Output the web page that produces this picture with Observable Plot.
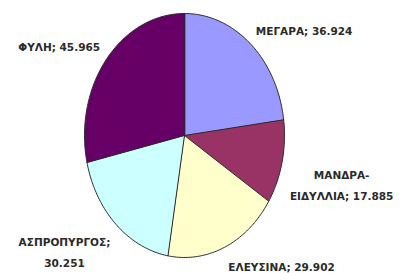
<!DOCTYPE html>
<html>
<head>
<meta charset="utf-8">
<script src="https://cdn.jsdelivr.net/npm/d3@7"></script>
<script src="https://cdn.jsdelivr.net/npm/@observablehq/plot@0.6"></script>
<style>
  html, body { margin: 0; padding: 0; background: #ffffff; }
  #chart svg { display: block; }
</style>
</head>
<body>
<div id="chart"></div>
<script>
// ---- data ----
const names = ["ΜΕΓΑΡΑ", "ΜΑΝΔΡΑ-ΕΙΔΥΛΛΙΑ", "ΕΛΕΥΣΙΝΑ", "ΑΣΠΡΟΠΥΡΓΟΣ", "ΦΥΛΗ"];
const values = [36924, 17885, 29902, 30251, 45965];
const labels = ["ΜΕΓΑΡΑ; 36.924", "ΜΑΝΔΡΑ-\nΕΙΔΥΛΛΙΑ; 17.885", "ΕΛΕΥΣΙΝΑ; 29.902", "ΑΣΠΡΟΠΥΡΓΟΣ;\n30.251", "ΦΥΛΗ; 45.965"];

// ---- styles ----
const palette = ["#9999ff", "#993366", "#ffffcc", "#ccffff", "#660066"];
const labelRadius = 1.08;
const fontSize = 10.5;
const fontFamily = "DejaVu Sans";
const pxPerUnitX = 100; // x range 200px over domain [-1,1]

// text width measurement (for centring multi-line labels)
const ctx = document.createElement("canvas").getContext("2d");
ctx.font = `bold ${fontSize}px "${fontFamily}"`;
const textWidth = s => d3.max(s.split("\n"), line => ctx.measureText(line).width);

// ---- geometry derived from data ----
const total = d3.sum(values);
const pts = [];
const labs = [];
let cum = 0;
values.forEach((v, i) => {
  const a0 = (cum / total) * 2 * Math.PI;
  cum += v;
  const a1 = (cum / total) * 2 * Math.PI;
  const n = Math.max(2, Math.ceil((a1 - a0) / (Math.PI / 180)));
  pts.push({name: names[i], x: 0, y: 0});
  for (let k = 0; k <= n; k++) {
    const t = a0 + (a1 - a0) * k / n;
    pts.push({name: names[i], x: Math.sin(t), y: -Math.cos(t)});
  }
  const m = (a0 + a1) / 2;
  const side = Math.sin(m) >= 0 ? 1 : -1;
  const w = textWidth(labels[i]);
  labs.push({
    label: labels[i],
    lx: Math.sin(m) * labelRadius + side * (w / 2) / pxPerUnitX,
    ly: -Math.cos(m) * labelRadius,
    above: Math.cos(m) >= 0
  });
});

const textOpts = {
  x: "lx", y: "ly", text: "label",
  fill: "#2a2a2a",
  fontFamily: `${fontFamily}, sans-serif`,
  fontSize,
  fontWeight: "bold",
  lineHeight: 2,
  textAnchor: "middle"
};

const chart = Plot.plot({
  width: 401,
  height: 273,
  margin: 0,
  style: {background: "#ffffff", overflow: "visible"},
  x: {domain: [-1, 1], range: [84, 284], axis: null},
  y: {domain: [-1, 1], range: [13, 257], axis: null},
  color: {domain: names, range: palette},
  marks: [
    Plot.line(pts, {x: "x", y: "y", z: "name", fill: "name", stroke: "#2b2b2b", strokeWidth: 1, curve: "linear-closed"}),
    Plot.text(labs.filter(d => d.above), {...textOpts, lineAnchor: "bottom", dy: -2}),
    Plot.text(labs.filter(d => !d.above), {...textOpts, lineAnchor: "top"})
  ]
});
document.getElementById("chart").appendChild(chart);
</script>
</body>
</html>
